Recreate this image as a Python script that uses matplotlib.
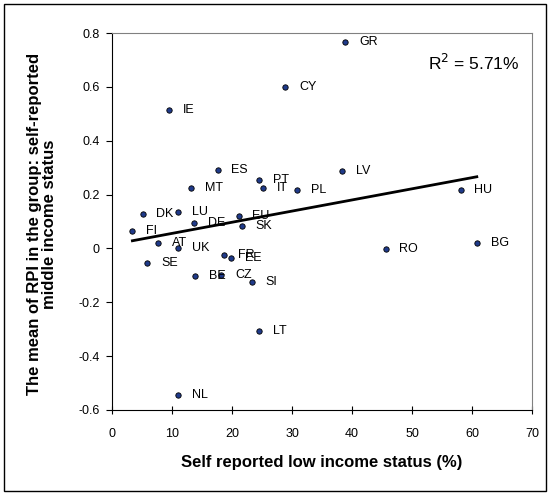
import numpy as np
import matplotlib.pyplot as plt
from matplotlib.patches import Rectangle

plt.rcParams['font.family'] = ['Liberation Sans', 'DejaVu Sans']

# countries, low income share (%) and mean RPI
countries = ["GR", "CY", "IE", "ES", "LV", "PT", "IT", "MT", "HU", "PL",
             "LU", "DK", "EU", "DE", "SK", "FI", "BG", "AT", "UK", "RO",
             "FR", "EE", "SE", "CZ", "BE", "SI", "LT", "NL"]
low_income = [38.9, 28.9, 9.5, 17.6, 38.4, 24.5, 25.2, 13.2, 58.1, 30.9,
              11.0, 5.1, 21.1, 13.7, 21.6, 3.4, 60.8, 7.6, 11.0, 45.6,
              18.7, 19.8, 5.9, 18.2, 13.9, 23.3, 24.5, 11.05]
rpi_mean = [0.768, 0.600, 0.513, 0.293, 0.286, 0.255, 0.226, 0.226, 0.218, 0.216,
            0.134, 0.128, 0.122, 0.095, 0.084, 0.063, 0.020, 0.019, 0.002, -0.002,
            -0.026, -0.037, -0.053, -0.097, -0.103, -0.125, -0.306, -0.543]

x = np.array(low_income)
y = np.array(rpi_mean)

W, H = 551, 495
fig = plt.figure(figsize=(W / 100, H / 100), dpi=100)
ax = fig.add_axes([112 / W, 1 - 410 / H, 420 / W, 377 / H])

ax.scatter(x, y, s=15, color="#1f3a8a", edgecolors="black", linewidths=0.6, zorder=3)
for c, xi, yi in zip(countries, x, y):
    ax.annotate(c, (xi, yi), xytext=(10, 0), textcoords="offset points",
                va="center", ha="left", fontsize=9)

# linear trend
b, a = np.polyfit(x, y, 1)
xx = np.array([x.min(), x.max()])
ax.plot(xx, a + b * xx, color="black", lw=2, zorder=2)

ax.text(0.97, 0.92, "R$^2$ = 5.71%", transform=ax.transAxes, ha="right",
        va="center", fontsize=12.5)

ax.set_xlim(0, 70)
ax.set_ylim(-0.6, 0.8)
ax.set_xticks(np.arange(0, 71, 10))
ax.set_yticks(np.arange(-0.6, 0.81, 0.2))
ax.set_yticklabels(["-0.6", "-0.4", "-0.2", "0", "0.2", "0.4", "0.6", "0.8"])
ax.tick_params(axis="x", direction="inout", length=6, width=0.8, pad=10, labelsize=9)
ax.tick_params(axis="y", direction="out", length=4, width=0.8, pad=5, labelsize=9)
for s in ["top", "right"]:
    ax.spines[s].set_color("#808080")
    ax.spines[s].set_linewidth(0.8)
for s in ["left", "bottom"]:
    ax.spines[s].set_linewidth(0.8)

fig.text(322 / W, 1 - 463 / H, "Self reported low income status (%)", ha="center",
         va="center", fontsize=12, fontweight="bold")
fig.text(42 / W, 1 - 224 / H,
         "The mean of RPI in the group: self-reported\nmiddle income status",
         rotation=90, ha="center", va="center", fontsize=12, fontweight="bold",
         linespacing=0.95)

fig.patches.append(Rectangle((4 / W, 4 / H), 542 / W, 487 / H, transform=fig.transFigure,
                             fill=False, edgecolor="black", lw=1))

fig.savefig("out.png", dpi=100)
